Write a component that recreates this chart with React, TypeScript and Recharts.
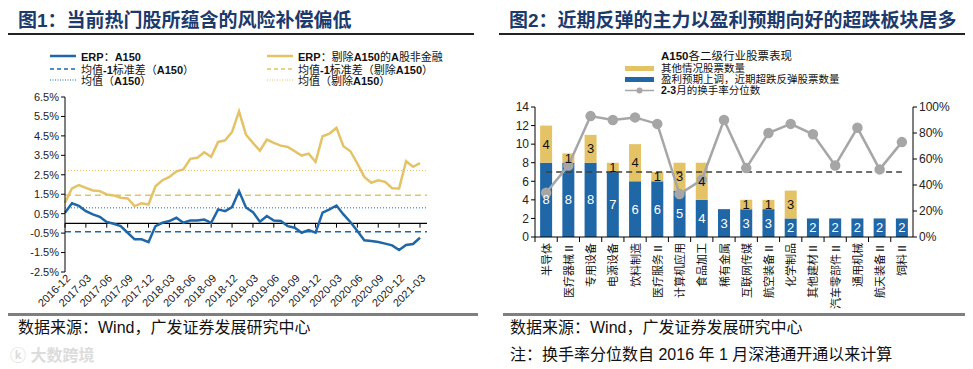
import React from 'react';
import {
  LineChart,
  Line,
  XAxis,
  YAxis,
  ReferenceLine,
  ComposedChart,
  Bar,
  LabelList,
} from 'recharts';

// ---- chart 1: ERP monthly ----
const months = [
  '2016-12', '2017-01', '2017-02', '2017-03', '2017-04', '2017-05', '2017-06', '2017-07', '2017-08',
  '2017-09', '2017-10', '2017-11', '2017-12', '2018-01', '2018-02', '2018-03', '2018-04', '2018-05',
  '2018-06', '2018-07', '2018-08', '2018-09', '2018-10', '2018-11', '2018-12', '2019-01', '2019-02',
  '2019-03', '2019-04', '2019-05', '2019-06', '2019-07', '2019-08', '2019-09', '2019-10', '2019-11',
  '2019-12', '2020-01', '2020-02', '2020-03', '2020-04', '2020-05', '2020-06', '2020-07', '2020-08',
  '2020-09', '2020-10', '2020-11', '2020-12', '2021-01', '2021-02', '2021-03',
];
const erpA150 = [
  0.55, 1.03, 0.9, 0.63, 0.46, 0.34, 0.07, -0.02, -0.14, -0.48, -0.82, -0.82, -0.96, -0.14, 0.03, 0.12,
  0.29, 0.03, 0.15, 0.15, 0.2, 0.03, 0.72, 0.63, 0.84, 1.66, 0.82, 0.58, 0.09, 0.38, 0.15, 0.12, -0.14,
  -0.22, -0.48, -0.34, -0.48, 0.55, 0.72, 0.92, 0.46, 0.07, -0.39, -0.87, -0.91, -0.96, -1.04, -1.13,
  -1.37, -1.11, -1.06, -0.74,
];
const erpOthers = [
  1.06, 1.8, 1.97, 1.83, 1.69, 1.66, 1.49, 1.44, 1.32, 1.28, 0.89, 1.03, 0.97, 1.91, 2.22, 2.39, 2.68,
  2.77, 3.32, 3.37, 3.66, 3.42, 4.19, 4.27, 4.7, 5.76, 4.56, 4.14, 3.74, 4.31, 4.14, 4.0, 3.93, 3.71,
  3.49, 3.59, 3.16, 4.48, 4.62, 4.91, 3.97, 3.71, 3.08, 2.39, 2.09, 2.22, 2.14, 1.81, 1.8, 3.2, 2.91, 3.1,
];
const meanA150 = 0.8;
const meanMinusSdA150 = -0.43;
const meanOthers = 2.72;
const meanMinusSdOthers = 1.45;
const erpTicks = [-2.5, -1.5, -0.5, 0.5, 1.5, 2.5, 3.5, 4.5, 5.5, 6.5];

// ---- chart 2: A150 sub-industries ----
const industries = [
  '半导体', '医疗器械Ⅱ', '专用设备', '电源设备', '饮料制造', '医疗服务Ⅱ', '计算机应用', '食品加工', '稀有金属',
  '互联网传媒', '航空装备Ⅱ', '化学制品', '其他建材Ⅱ', '汽车零部件Ⅱ', '通用机械', '航天装备Ⅱ', '饲料Ⅱ',
];
const upgradedCount = [8, 8, 8, 7, 6, 6, 5, 4, 3, 3, 3, 2, 2, 2, 2, 2, 2];
const otherCount = [4, 1, 3, 1, 4, 1, 3, 4, 0, 1, 1, 3, 0, 0, 0, 0, 0];
const turnoverPct = [34, 55, 93, 90, 92, 87, 33, 44, 90, 53, 80, 87, 79, 55, 84, 52, 73];
const countTicks = [0, 2, 4, 6, 8, 10, 12, 14];
const pctTicks = [0, 20, 40, 60, 80, 100];
const threshold = 7;

const BLUE = '#1F67A6';
const GOLD = '#E4C266';
const GRAY = '#A6A6A6';
const NAVY = '#1C3A6B';
const LATIN = '"Liberation Sans", Arial, sans-serif';
const CJK = '"Liberation Sans", "Noto Sans CJK SC", sans-serif';

const erpData = months.map((m, i) => ({ month: m, a150: erpA150[i], others: erpOthers[i] }));
const indData = industries.map((name, i) => ({
  name,
  up: upgradedCount[i],
  other: otherCount[i],
  pct: turnoverPct[i],
}));

// bold the latin runs, like the original legend
const Mixed = ({ text }: { text: string }) => (
  <>
    {text.split(/([A-Za-z0-9.\-]+)/).map((s, i) =>
      /^[A-Za-z0-9.\-]+$/.test(s) ? (
        <b key={i} style={{ fontFamily: LATIN }}>{s}</b>
      ) : (
        <span key={i}>{s}</span>
      ),
    )}
  </>
);

const LegendLine = ({ color, dash, label, x, y, w = 2 }: any) => (
  <div style={{ position: 'absolute', left: x, top: y - 7, height: 14, display: 'flex', alignItems: 'center' }}>
    <svg width={27} height={6} style={{ marginRight: 4 }}>
      <line x1={0} y1={3} x2={26} y2={3} stroke={color} strokeWidth={w} strokeDasharray={dash} />
    </svg>
    <span style={{ fontSize: 11, color: '#111', whiteSpace: 'nowrap' }}>
      <Mixed text={label} />
    </span>
  </div>
);

const DateTick = ({ x, y, payload }: any) => {
  const ax = x + 6;
  const ay = y + 7;
  return (
    <text
      x={ax}
      y={ay}
      textAnchor="end"
      transform={`rotate(-45 ${ax} ${ay})`}
      fontSize={11}
      fontFamily={LATIN}
      fill="#222"
    >
      {payload.value}
    </text>
  );
};

const IndustryTick = ({ x, y, payload, width }: any) => {
  const band = typeof width === 'number' && width > 0 ? width / industries.length : 22.2;
  const left = x - band / 2;
  return (
    <g>
      <line x1={left} y1={y} x2={left} y2={y + 5} stroke="#000" strokeWidth={1} />
      <text
        transform={`translate(${x + 4.5},${y + 6}) rotate(-90)`}
        textAnchor="end"
        fontSize={11}
        fontFamily='"Noto Sans CJK SC", sans-serif'
        fill="#111"
      >
        {payload.value}
      </text>
    </g>
  );
};

function ErpChart() {
  return (
    <LineChart
      width={480}
      height={320}
      data={erpData}
      margin={{ top: 97, right: 53, left: 0, bottom: 0 }}
    >
      <XAxis
        dataKey="month"
        interval={2}
        axisLine={false}
        tickLine={false}
        tickSize={0}
        tickMargin={0}
        height={48}
        padding={{ left: 0, right: 7 }}
        tick={<DateTick />}
      />
      <YAxis
        domain={[-2.5, 6.5]}
        ticks={erpTicks}
        interval={0}
        width={65}
        tickFormatter={(v: number) => `${v.toFixed(1)}%`}
        axisLine={{ stroke: '#000' }}
        tickLine={{ stroke: '#000' }}
        tickSize={4}
        tick={{ fontSize: 11, fill: '#222', fontFamily: LATIN }}
      />
      <ReferenceLine y={meanOthers} stroke={GOLD} strokeWidth={1} strokeDasharray="1 2" />
      <ReferenceLine y={meanMinusSdOthers} stroke={GOLD} strokeWidth={1.5} strokeDasharray="6 4" />
      <ReferenceLine y={meanA150} stroke={BLUE} strokeWidth={1} strokeDasharray="1 2" />
      <ReferenceLine y={meanMinusSdA150} stroke={BLUE} strokeWidth={1.5} strokeDasharray="6 4" />
      <ReferenceLine y={0} stroke="#000" strokeWidth={1.2} />
      {months
        .filter((_, i) => i % 3 === 0)
        .map((m) => (
          <ReferenceLine
            key={m}
            segment={[
              { x: m, y: 0 },
              { x: m, y: -0.22 },
            ]}
            stroke="#000"
            strokeWidth={1}
          />
        ))}
      <Line
        type="linear"
        dataKey="others"
        stroke={GOLD}
        strokeWidth={2.5}
        dot={false}
        isAnimationActive={false}
      />
      <Line
        type="linear"
        dataKey="a150"
        stroke={BLUE}
        strokeWidth={2.5}
        dot={false}
        isAnimationActive={false}
      />
    </LineChart>
  );
}

function IndustryChart() {
  return (
    <ComposedChart
      width={470}
      height={310}
      data={indData}
      margin={{ top: 107, right: 0, left: 0, bottom: 0 }}
      barCategoryGap="23%"
    >
      <XAxis
        dataKey="name"
        interval={0}
        height={73}
        axisLine={{ stroke: '#000' }}
        tickLine={false}
        tickSize={0}
        tickMargin={0}
        tick={<IndustryTick />}
      />
      <YAxis
        yAxisId="count"
        domain={[0, 14]}
        ticks={countTicks}
        interval={0}
        width={45}
        axisLine={{ stroke: '#000' }}
        tickLine={{ stroke: '#000' }}
        tickSize={4}
        tick={{ fontSize: 12, fill: '#222', fontFamily: LATIN }}
      />
      <YAxis
        yAxisId="pct"
        orientation="right"
        domain={[0, 100]}
        ticks={pctTicks}
        interval={0}
        width={47}
        tickFormatter={(v: number) => `${v}%`}
        axisLine={{ stroke: '#000' }}
        tickLine={{ stroke: '#000' }}
        tickSize={4}
        tick={{ fontSize: 12, fill: '#222', fontFamily: LATIN }}
      />
      <Bar yAxisId="count" dataKey="up" stackId="s" fill={BLUE} isAnimationActive={false}>
        <LabelList dataKey="up" position="center" fill="#fff" fontSize={13} fontFamily={LATIN} />
      </Bar>
      <Bar yAxisId="count" dataKey="other" stackId="s" fill={GOLD} isAnimationActive={false}>
        <LabelList
          dataKey="other"
          position="center"
          fill="#111"
          fontSize={13}
          fontFamily={LATIN}
          formatter={(v: any) => (v ? v : '')}
        />
      </Bar>
      <ReferenceLine
        yAxisId="count"
        segment={[
          { x: industries[0], y: threshold },
          { x: industries[industries.length - 1], y: threshold },
        ]}
        stroke="#404040"
        strokeWidth={1.5}
        strokeDasharray="6 4"
      />
      <Line
        yAxisId="pct"
        type="linear"
        dataKey="pct"
        stroke={GRAY}
        strokeWidth={2.5}
        dot={{ r: 4, fill: GRAY, stroke: GRAY }}
        isAnimationActive={false}
      />
    </ComposedChart>
  );
}

const titleStyle: React.CSSProperties = {
  position: 'absolute',
  top: 5,
  fontSize: 19,
  fontWeight: 700,
  color: NAVY,
  fontFamily: CJK,
  whiteSpace: 'nowrap',
};

const footStyle: React.CSSProperties = {
  position: 'absolute',
  fontSize: 16,
  lineHeight: '20px',
  color: '#111',
  fontFamily: CJK,
  whiteSpace: 'nowrap',
};

const legendText: React.CSSProperties = {
  position: 'absolute',
  left: 661,
  fontSize: 10.5,
  lineHeight: '11px',
  color: '#111',
  whiteSpace: 'nowrap',
};

export default function App() {
  return (
    <div
      style={{
        position: 'absolute',
        left: 0,
        top: 0,
        width: 973,
        height: 369,
        background: '#fff',
        overflow: 'hidden',
        fontFamily: CJK,
      }}
    >
      {/* left panel */}
      <div style={{ ...titleStyle, left: 18 }}>图1：当前热门股所蕴含的风险补偿偏低</div>
      <div style={{ position: 'absolute', left: 8, top: 33, width: 466, height: 1.5, background: '#222' }} />
      <LegendLine x={50} y={56} color={BLUE} label="ERP：A150" w={2.5} />
      <LegendLine x={50} y={69} color={BLUE} dash="4 3" label="均值-1标准差（A150）" w={1.5} />
      <LegendLine x={50} y={80} color={BLUE} dash="1 1.5" label="均值（A150）" w={1} />
      <LegendLine x={267} y={56} color={GOLD} label="ERP：剔除A150的A股非金融" w={2.5} />
      <LegendLine x={267} y={69} color={GOLD} dash="4 3" label="均值-1标准差（剔除A150）" w={1.5} />
      <LegendLine x={267} y={80} color={GOLD} dash="1 1.5" label="均值（剔除A150）" w={1} />
      <div style={{ position: 'absolute', left: 0, top: 0 }}>
        <ErpChart />
      </div>
      <div style={{ position: 'absolute', left: 8, top: 313, width: 470, height: 3, background: '#7F7F7F' }} />
      <div style={{ ...footStyle, left: 18, top: 318 }}>数据来源：Wind，广发证券发展研究中心</div>
      <div style={{ position: 'absolute', left: 10, top: 342, fontSize: 16, color: '#dcdcdc', fontWeight: 700 }}>
        ⓚ 大数跨境
      </div>

      {/* right panel */}
      <div style={{ ...titleStyle, left: 509 }}>图2：近期反弹的主力以盈利预期向好的超跌板块居多</div>
      <div style={{ position: 'absolute', left: 499, top: 33, width: 466, height: 1.5, background: '#222' }} />
      <div style={{ ...legendText, top: 49.5, fontSize: 11.5, lineHeight: '12px' }}>
        <Mixed text="A150各二级行业股票表现" />
      </div>
      <div style={{ position: 'absolute', left: 625, top: 66, width: 29, height: 5, background: GOLD }} />
      <div style={{ ...legendText, top: 63 }}>其他情况股票数量</div>
      <div style={{ position: 'absolute', left: 625, top: 77, width: 29, height: 5, background: BLUE }} />
      <div style={{ ...legendText, top: 74.2 }}>盈利预期上调，近期超跌反弹股票数量</div>
      <svg style={{ position: 'absolute', left: 625, top: 86 }} width={30} height={9}>
        <line x1={0} y1={4.5} x2={29} y2={4.5} stroke={GRAY} strokeWidth={1.5} />
        <circle cx={14.5} cy={4.5} r={3} fill={GRAY} />
      </svg>
      <div style={{ ...legendText, top: 85.4 }}>
        <Mixed text="2-3月的换手率分位数" />
      </div>
      <div style={{ position: 'absolute', left: 490, top: 0 }}>
        <IndustryChart />
      </div>
      <div style={{ position: 'absolute', left: 503, top: 313, width: 462, height: 3, background: '#7F7F7F' }} />
      <div style={{ ...footStyle, left: 510, top: 318 }}>数据来源：Wind，广发证券发展研究中心</div>
      <div style={{ ...footStyle, left: 510, top: 345 }}>注：换手率分位数自 2016 年 1 月深港通开通以来计算</div>
    </div>
  );
}
